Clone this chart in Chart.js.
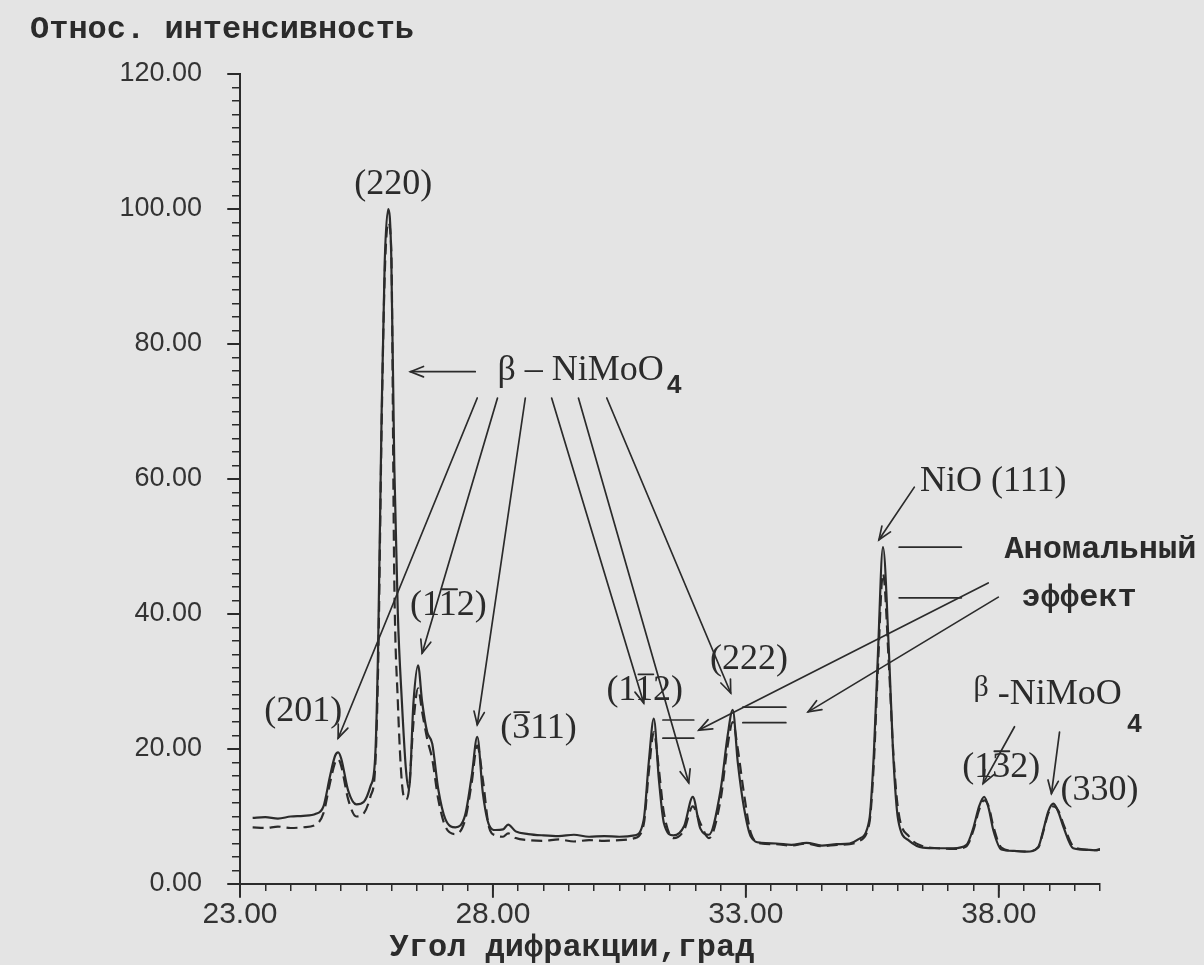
<!DOCTYPE html>
<html>
<head>
<meta charset="utf-8">
<script src="https://cdn.jsdelivr.net/npm/chart.js@4.4.1/dist/chart.umd.min.js"></script>
<style>
  html, body { margin: 0; padding: 0; background: #e4e4e4; }
  canvas { display: block; }
</style>
</head>
<body>
<canvas id="chart" width="1204" height="965"></canvas>
<script>
// diffraction angle, degrees
var angles = [
  23.25, 23.5, 23.75, 24.0, 24.25, 24.5, 24.65, 24.78, 24.88, 24.94,
  25.0, 25.14, 25.3, 25.45, 25.58, 25.67, 25.73, 25.8, 25.86, 25.93,
  25.99, 26.05, 26.12, 26.2, 26.28, 26.34, 26.43, 26.52, 26.6, 26.7,
  26.8, 26.92, 27.06, 27.26, 27.45, 27.58, 27.69, 27.8, 27.92, 28.05,
  28.2, 28.3, 28.45, 28.7, 29.0, 29.3, 29.6, 29.9, 30.2, 30.5,
  30.8, 30.98, 31.08, 31.18, 31.28, 31.38, 31.57, 31.78, 31.95, 32.1,
  32.27, 32.5, 32.64, 32.74, 32.84, 32.96, 33.1, 33.3, 33.6, 33.9,
  34.2, 34.5, 34.8, 35.05, 35.22, 35.44, 35.53, 35.61, 35.71, 35.83,
  35.91, 36.01, 36.23, 36.5, 36.8, 37.1, 37.36, 37.5, 37.61, 37.71,
  37.8, 37.89, 38.05, 38.3, 38.55, 38.78, 38.88, 38.98, 39.08, 39.18,
  39.28, 39.47, 39.7, 39.9, 40.07
];

// relative intensity, solid curve
var solidCurve = [
  9.8, 9.9, 9.7, 10.0, 10.1, 10.4, 11.5, 16.0, 19.0, 19.5,
  18.6, 13.8, 11.8, 12.2, 14.5, 18.5, 35, 70, 92, 100,
  93, 62, 40, 27, 17, 14, 27, 32.4, 27, 22.5,
  20.8, 14, 9.6, 8.4, 10.2, 16, 21.8, 13.5, 8.8, 8.0,
  8.1, 8.8, 7.8, 7.4, 7.2, 7.1, 7.3, 7.0, 7.1, 7.0,
  7.2, 9.5, 18, 24.5, 15.5, 9.0, 7.2, 8.6, 12.9, 8.2,
  7.3, 13.9, 22, 25.8, 18, 11.4, 7.0, 6.1, 6.0, 5.8,
  6.1, 5.7, 5.9, 6.0, 6.6, 9.5, 19.4, 34, 49.9, 34,
  19.4, 9.5, 6.4, 5.4, 5.3, 5.3, 5.8, 8.4, 11.5, 12.9,
  11.2, 8.0, 5.1, 4.9, 4.8, 5.5, 8.0, 10.8, 11.9, 10.6,
  8.4, 5.3, 5.1, 5.0, 5.3
];

// relative intensity, dashed curve
var dashedCurve = [
  8.4, 8.3, 8.5, 8.3, 8.4, 8.8, 10.5, 15.0, 18.0, 18.5,
  17.5, 12.5, 10.0, 10.5, 13.0, 17.0, 32, 68, 90, 98,
  94, 45, 27, 15, 12.5, 14, 24, 29, 25.5, 21.5,
  18.5, 12.5, 8.5, 7.4, 9.5, 15, 20.5, 15.5, 8.5, 7.2,
  7.0, 7.5, 6.8, 6.5, 6.4, 6.6, 6.3, 6.5, 6.4, 6.5,
  6.8, 8.8, 16.5, 22.5, 17, 10.5, 6.8, 8.0, 11.5, 9.0,
  6.8, 12.5, 20.5, 24.0, 20, 13.5, 7.5, 6.0, 5.9, 5.7,
  6.0, 5.6, 5.8, 5.9, 6.3, 9.0, 18, 32, 46, 32,
  20, 11, 7.0, 5.6, 5.3, 5.2, 5.6, 8.0, 11.0, 12.4,
  11.5, 8.6, 5.4, 4.9, 4.8, 5.4, 7.8, 10.5, 11.5, 10.8,
  8.8, 5.6, 5.1, 5.0, 5.2
];

var yTickLabels = [0, 20, 40, 60, 80, 100, 120];
var xTickLabels = [23, 28, 33, 38];

// peak labels, in data units (angle, intensity); bar = index of overlined digit
var peakLabels = [
  {t: '(220)', x: 26.03, y: 103.6},
  {t: '(201)', x: 24.25, y: 25.5},
  {t: '(112)', x: 27.12, y: 41.3, bar: 2},
  {t: '(311)', x: 28.90, y: 23.1, bar: 1},
  {t: '(112)', x: 31.00, y: 28.7, bar: 2},
  {t: '(222)', x: 33.06, y: 33.2},
  {t: 'NiO (111)', x: 37.89, y: 59.6},
  {t: '(132)', x: 38.05, y: 17.3, bar: 2},
  {t: '(330)', x: 39.99, y: 13.9}
];

var arrows = [
  [27.65, 75.9, 26.37, 75.9],
  [27.69, 72.0, 24.94, 21.6],
  [28.09, 72.0, 26.60, 34.2],
  [28.64, 72.0, 27.69, 23.6],
  [29.16, 72.0, 30.98, 26.8],
  [29.69, 72.0, 31.87, 15.0],
  [30.25, 72.0, 32.70, 28.3],
  [36.33, 58.8, 35.63, 51.0],
  [37.79, 44.6, 32.07, 22.8],
  [37.99, 42.5, 34.23, 25.5],
  [38.31, 23.3, 37.69, 14.9],
  [39.20, 22.5, 39.04, 13.4]
];

var marks = [
  [36.03, 49.9, 37.26, 49.9],
  [36.03, 42.4, 37.26, 42.4],
  [31.36, 24.3, 31.97, 24.3],
  [31.36, 21.6, 31.97, 21.6],
  [32.94, 26.2, 33.79, 26.2],
  [32.94, 23.9, 33.79, 23.9]
];

var INK = '#2b2b2b';
var SERIF = '36px "Liberation Serif", "DejaVu Serif", serif';
var MONO = 'bold 32px "Liberation Mono", "DejaVu Sans Mono", monospace';

function near(v, list) {
  return list.some(function (t) { return Math.abs(v - t) < 1e-6; });
}

function arrowHead(ctx, x1, y1, x2, y2) {
  var a = Math.atan2(y2 - y1, x2 - x1), len = 14, sp = 0.38;
  ctx.beginPath();
  ctx.moveTo(x2 - len * Math.cos(a - sp), y2 - len * Math.sin(a - sp));
  ctx.lineTo(x2, y2);
  ctx.lineTo(x2 - len * Math.cos(a + sp), y2 - len * Math.sin(a + sp));
  ctx.stroke();
}

var paper = {
  id: 'paper',
  beforeDraw: function (chart) {
    var ctx = chart.ctx;
    ctx.save();
    ctx.fillStyle = '#e4e4e4';
    ctx.fillRect(0, 0, chart.width, chart.height);
    ctx.restore();
  }
};

var notes = {
  id: 'notes',
  afterDraw: function (chart) {
    var ctx = chart.ctx, xs = chart.scales.x, ys = chart.scales.y, area = chart.chartArea;
    var px = function (v) { return xs.getPixelForValue(v); };
    var py = function (v) { return ys.getPixelForValue(v); };
    ctx.save();
    ctx.strokeStyle = INK;
    ctx.fillStyle = INK;
    ctx.lineCap = 'round';

    // longer major ticks
    ctx.lineWidth = 2;
    xTickLabels.forEach(function (v) {
      ctx.beginPath(); ctx.moveTo(px(v), area.bottom); ctx.lineTo(px(v), area.bottom + 13); ctx.stroke();
    });
    yTickLabels.forEach(function (v) {
      ctx.beginPath(); ctx.moveTo(area.left, py(v)); ctx.lineTo(area.left - 12, py(v)); ctx.stroke();
    });

    // arrows and marks
    ctx.lineWidth = 1.7;
    arrows.forEach(function (a) {
      var x1 = px(a[0]), y1 = py(a[1]), x2 = px(a[2]), y2 = py(a[3]);
      ctx.beginPath(); ctx.moveTo(x1, y1); ctx.lineTo(x2, y2); ctx.stroke();
      arrowHead(ctx, x1, y1, x2, y2);
    });
    marks.forEach(function (m) {
      ctx.beginPath(); ctx.moveTo(px(m[0]), py(m[1])); ctx.lineTo(px(m[2]), py(m[3])); ctx.stroke();
    });

    // peak labels
    ctx.font = SERIF;
    ctx.textBaseline = 'middle';
    ctx.textAlign = 'left';
    peakLabels.forEach(function (l) {
      var w = ctx.measureText(l.t).width;
      var x0 = px(l.x) - w / 2, y0 = py(l.y);
      ctx.fillText(l.t, x0, y0);
      if (l.bar !== undefined) {
        var b0 = ctx.measureText(l.t.slice(0, l.bar)).width;
        var bw = ctx.measureText(l.t.charAt(l.bar)).width;
        ctx.lineWidth = 1.8;
        ctx.beginPath();
        ctx.moveTo(x0 + b0 + 2, y0 - 16);
        ctx.lineTo(x0 + b0 + bw - 1, y0 - 16);
        ctx.stroke();
      }
    });

    // phase names
    ctx.fillText('\u03b2 \u2013 NiMoO', px(28.09), py(76.0));
    ctx.fillText('-NiMoO', px(37.98), py(28.0));
    ctx.font = '30px "Liberation Serif", serif';
    ctx.fillText('\u03b2', px(37.50), py(29.0));
    ctx.font = 'bold 26px "Liberation Sans", sans-serif';
    ctx.fillText('4', px(31.44), py(73.8));
    ctx.fillText('4', px(40.54), py(23.6));

    // bold typewriter captions
    ctx.font = MONO;
    ctx.fillText('\u0410\u043d\u043e\u043c\u0430\u043b\u044c\u043d\u044b\u0439', px(38.11), py(49.5));
    ctx.fillText('\u044d\u0444\u0444\u0435\u043a\u0442', px(38.45), py(42.4));
    ctx.fillText('\u041e\u0442\u043d\u043e\u0441. \u0438\u043d\u0442\u0435\u043d\u0441\u0438\u0432\u043d\u043e\u0441\u0442\u044c', 30, 30);
    ctx.textAlign = 'center';
    ctx.fillText('\u0423\u0433\u043e\u043b \u0434\u0438\u0444\u0440\u0430\u043a\u0446\u0438\u0438,\u0433\u0440\u0430\u0434', 572, 948);
    ctx.restore();
  }
};

function main() {
  var solidPts = angles.map(function (a, i) { return {x: a, y: solidCurve[i]}; });
  var dashedPts = angles.map(function (a, i) { return {x: a, y: dashedCurve[i]}; });

  new Chart('chart', {
    type: 'line',
    data: {
      datasets: [{
        data: solidPts,
        borderColor: INK,
        borderWidth: 2.2,
        pointRadius: 0,
        cubicInterpolationMode: 'monotone'
      }, {
        data: dashedPts,
        borderColor: INK,
        borderWidth: 2.2,
        borderDash: [11, 6],
        pointRadius: 0,
        cubicInterpolationMode: 'monotone'
      }]
    },
    options: {
      responsive: false,
      animation: false,
      devicePixelRatio: 1,
      layout: {padding: {top: 74, right: 104, left: 0, bottom: 0}},
      plugins: {legend: {display: false}, tooltip: {enabled: false}},
      scales: {
        x: {
          type: 'linear', min: 23, max: 40,
          afterFit: function (s) { s.height = 81; },
          border: {color: INK, width: 2},
          grid: {drawOnChartArea: false, drawTicks: true, tickLength: 7, color: INK, lineWidth: 1.5},
          ticks: {
            stepSize: 0.5, autoSkip: false, maxRotation: 0, padding: 6, color: '#333',
            font: {family: '"Liberation Sans Narrow", "Liberation Sans", sans-serif', size: 30},
            callback: function (v) { return near(v, xTickLabels) ? v.toFixed(2) : ''; }
          }
        },
        y: {
          min: 0, max: 120,
          afterFit: function (s) { s.width = 240; },
          border: {color: INK, width: 2},
          grid: {drawOnChartArea: false, drawTicks: true, tickLength: 8, color: INK, lineWidth: 1.5},
          ticks: {
            stepSize: 2, autoSkip: false, padding: 30, color: '#333',
            font: {family: '"Liberation Sans", sans-serif', size: 27},
            callback: function (v) { return near(v, yTickLabels) ? v.toFixed(2) : ''; }
          }
        }
      }
    },
    plugins: [paper, notes]
  });
}

main();
</script>
</body>
</html>
